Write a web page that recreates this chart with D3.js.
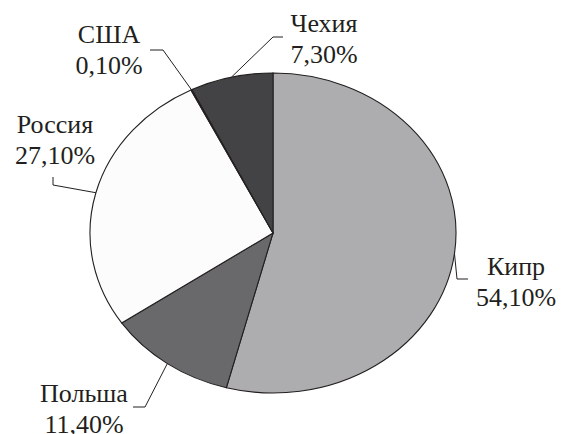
<!DOCTYPE html>
<html>
<head>
<meta charset="utf-8">
<script src="https://cdn.jsdelivr.net/npm/d3@7"></script>
<style>
  body { margin: 0; background: #fff; }
  svg { display: block; }
</style>
</head>
<body>
<svg width="563" height="434"></svg>
<script>
const width = 563;
const height = 434;

// data
const countries = ["Кипр", "Польша", "Россия", "США", "Чехия"];
const shares = [54.1, 11.4, 27.1, 0.1, 7.3];
const fills = ["#adadb0", "#69696c", "#fcfcfc", "#ffffff", "#434345"];

// label placement (annotation layout)
const labelPos = {
  "Кипр":   {x: 516, y: 275, elbow: [457, 279], end: [468, 279]},
  "Польша": {x: 84,  y: 402, elbow: [145, 407], end: [133, 407]},
  "Россия": {x: 55,  y: 133, elbow: [53, 185],  end: [53, 177]},
  "США":    {x: 109, y: 43,  elbow: [163, 50],  end: [150, 50]},
  "Чехия":  {x: 324, y: 32,  elbow: [273, 37],  end: [283, 37]}
};

const cx = 273, cy = 233;
const rx = 183, ry = 160;

const svg = d3.select("svg");

const pct = d3.formatLocale({decimal: ",", thousands: " ", grouping: [3], currency: ["", ""]}).format(".2f");

const data = countries.map((c, i) => ({name: c, value: shares[i], fill: fills[i]}));

const pie = d3.pie().sort(null).value(d => d.value);
const arcs = pie(data);

const arc = d3.arc().innerRadius(0).outerRadius(rx);

const g = svg.append("g")
    .attr("transform", `translate(${cx},${cy}) scale(1,${ry / rx})`);

g.selectAll("path")
  .data(arcs)
  .join("path")
    .attr("d", arc)
    .attr("fill", d => d.data.fill)
    .attr("stroke", "#231f20")
    .attr("stroke-width", 1.1)
    .attr("vector-effect", "non-scaling-stroke");

// leader lines from the middle of each slice's arc
const leaders = svg.append("g");
arcs.forEach(a => {
  const mid = (a.startAngle + a.endAngle) / 2;
  const sx = cx + rx * Math.sin(mid);
  const sy = cy - ry * Math.cos(mid);
  const lp = labelPos[a.data.name];
  leaders.append("polyline")
    .attr("points", [[sx, sy], lp.elbow, lp.end].map(p => p.join(",")).join(" "))
    .attr("fill", "none")
    .attr("stroke", "#231f20")
    .attr("stroke-width", 1);
});

// two lines per label: name, then share
arcs.forEach(a => {
  const lp = labelPos[a.data.name];
  [a.data.name, pct(a.data.value) + "%"].forEach((txt, k) => {
    svg.append("text")
      .attr("font-family", "Liberation Serif")
      .attr("font-size", 26)
      .attr("fill", "#231f20")
      .attr("text-anchor", "middle")
      .attr("x", lp.x)
      .attr("y", lp.y + k * 31)
      .text(txt);
  });
});
</script>
</body>
</html>
